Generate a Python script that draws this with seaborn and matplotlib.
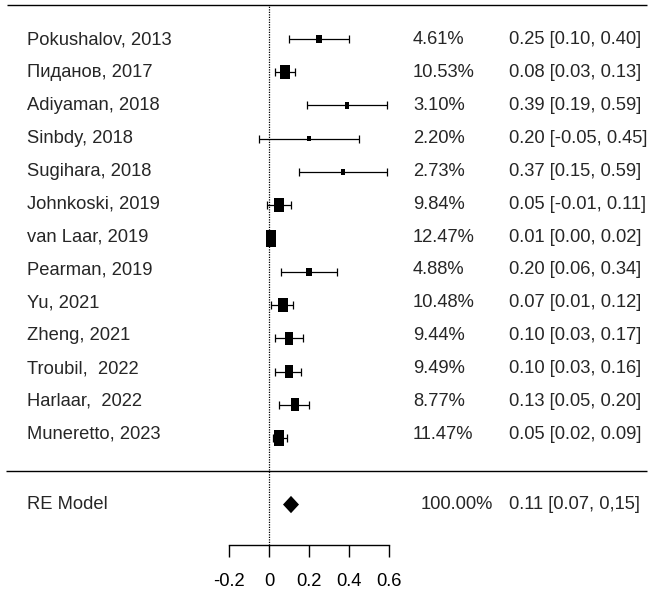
import numpy as np
import pandas as pd
import matplotlib
matplotlib.use("Agg")
import matplotlib.pyplot as plt
import seaborn as sns

# ---- data ----
studies = ["Pokushalov, 2013", "Пиданов, 2017", "Adiyaman, 2018", "Sinbdy, 2018",
           "Sugihara, 2018", "Johnkoski, 2019", "van Laar, 2019", "Pearman, 2019",
           "Yu, 2021", "Zheng, 2021", "Troubil,  2022", "Harlaar,  2022",
           "Muneretto, 2023"]
weights = [4.61, 10.53, 3.10, 2.20, 2.73, 9.84, 12.47, 4.88, 10.48, 9.44, 9.49, 8.77, 11.47]
est = [0.25, 0.08, 0.39, 0.20, 0.37, 0.05, 0.01, 0.20, 0.07, 0.10, 0.10, 0.13, 0.05]
ci_lo = [0.10, 0.03, 0.19, -0.05, 0.15, -0.01, 0.00, 0.06, 0.01, 0.03, 0.03, 0.05, 0.02]
ci_hi = [0.40, 0.13, 0.59, 0.45, 0.59, 0.11, 0.02, 0.34, 0.12, 0.17, 0.16, 0.20, 0.09]
ci_text = ["0.25 [0.10, 0.40]", "0.08 [0.03, 0.13]", "0.39 [0.19, 0.59]",
           "0.20 [-0.05, 0.45]", "0.37 [0.15, 0.59]", "0.05 [-0.01, 0.11]",
           "0.01 [0.00, 0.02]", "0.20 [0.06, 0.34]", "0.07 [0.01, 0.12]",
           "0.10 [0.03, 0.17]", "0.10 [0.03, 0.16]", "0.13 [0.05, 0.20]",
           "0.05 [0.02, 0.09]"]
re_label = "RE Model"
re_weight = "100.00%"
re_est, re_lo, re_hi = 0.11, 0.07, 0.15
re_text = "0.11 [0.07, 0,15]"
xticks = [-0.2, 0, 0.2, 0.4, 0.6]
xtick_labels = ["-0.2", "0", "0.2", "0.4", "0.6"]

sns.set_style("white")
plt.rcParams['font.family'] = ['Liberation Sans', 'DejaVu Sans']
FS = 13.2

n = len(studies)
rows = np.arange(n, 0, -1)
df = pd.DataFrame({"study": studies, "w": weights, "est": est,
                   "lo": ci_lo, "hi": ci_hi, "row": rows})

fig = plt.figure(figsize=(6.49, 5.98), dpi=100)
ax = fig.add_axes([0, 0, 1, 1])
ax.set_xlim(-1.345, 1.9)
ax.set_ylim(-3.81, 14.17)

# CI lines
ax.errorbar(df["est"], df["row"],
            xerr=[df["est"] - df["lo"], df["hi"] - df["est"]],
            fmt="none", ecolor="black", elinewidth=0.9, capsize=2.9,
            capthick=0.9)

# squares sized by weight
w = np.array(weights)
psize = 0.5 + (w - w.min()) / (w.max() - w.min())
h_px = 11.0 * psize
s = (h_px * 0.72) ** 2
verts = [(-0.33, -0.5), (0.33, -0.5), (0.33, 0.5), (-0.33, 0.5), (-0.33, -0.5)]
sns.scatterplot(data=df, x="est", y="row", s=s, marker=verts, color="black",
                linewidth=0, ax=ax, legend=False, zorder=3)

# summary diamond
ax.fill([re_lo, re_est, re_hi, re_est], [-1, -1 + 0.26, -1, -1 - 0.26],
        color="black", linewidth=0)

# reference line
ax.vlines(0, -2.22, 14.02, colors="black", linestyles=(0, (1, 1)), linewidth=0.9)

# horizontal separators
ax.hlines([14.02, 0.0], [-1.31, -1.315], [1.89, 1.89], colors="black", linewidth=1.0)

# texts (text rows very slightly tighter than marker rows)
x_name, x_w, x_ci = (27 - 269) / 200, (413 - 269) / 200, (509 - 269) / 200
text_rows = 12.97 - (13 - rows) * (32.85 / 33.25)
for r, name, wt, t in zip(text_rows, studies, weights, ci_text):
    ax.text(x_name, r, name, fontsize=FS, va="center", ha="left")
    ax.text(x_w, r, f"{wt:.2f}%", fontsize=FS, va="center", ha="left")
    ax.text(x_ci, r, t, fontsize=FS, va="center", ha="left")
ax.text(x_name, -1, re_label, fontsize=FS, va="center", ha="left")
ax.text((421 - 269) / 200, -1, re_weight, fontsize=FS, va="center", ha="left")
ax.text(x_ci, -1, re_text, fontsize=FS, va="center", ha="left")

# axis
for sp in ["top", "left", "right"]:
    ax.spines[sp].set_visible(False)
ax.spines["bottom"].set_position(("data", -2.22))
ax.spines["bottom"].set_bounds(-0.2, 0.6)
ax.spines["bottom"].set_linewidth(1.0)
ax.spines["bottom"].set_color("black")
ax.set_xticks(xticks)
ax.set_xticklabels(xtick_labels, fontsize=FS)
ax.tick_params(axis="x", direction="out", length=8.6, width=1.0, pad=11.5,
               colors="black", bottom=True)
ax.set_yticks([])
ax.set_xlabel("")
ax.set_ylabel("")

fig.savefig("out.png", dpi=100, facecolor="white")
